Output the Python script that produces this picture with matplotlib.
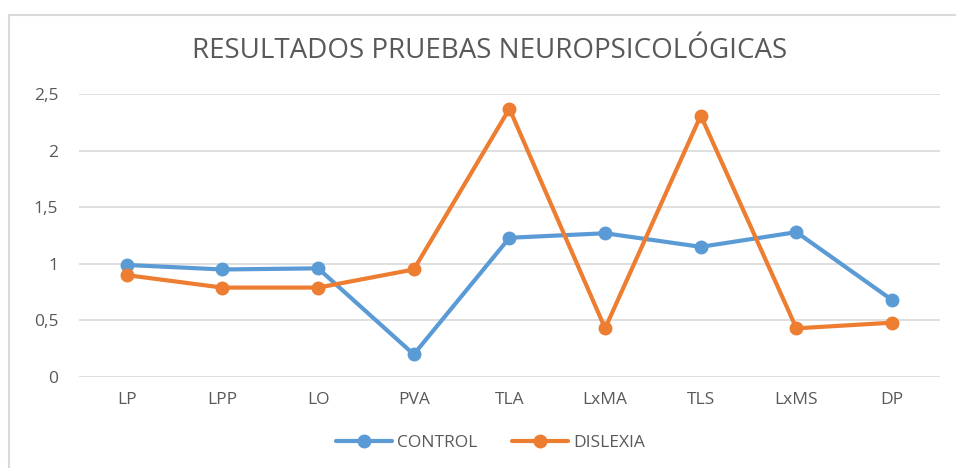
import matplotlib.pyplot as plt
from matplotlib.lines import Line2D

categories = ["LP", "LPP", "LO", "PVA", "TLA", "LxMA", "TLS", "LxMS", "DP"]
control = [0.99, 0.95, 0.96, 0.20, 1.23, 1.27, 1.15, 1.28, 0.68]
dislexia = [0.90, 0.79, 0.79, 0.95, 2.37, 0.43, 2.31, 0.43, 0.48]
y_ticks = [0, 0.5, 1, 1.5, 2, 2.5]
y_tick_labels = ["0", "0,5", "1", "1,5", "2", "2,5"]

plt.rcParams["font.family"] = ["Open Sans", "DejaVu Sans"]
text_color = "#595959"

fig = plt.figure(figsize=(9.56, 4.68), dpi=100)
ax = fig.add_axes([0.0826, 0.1944, 0.9006, 0.6047])

x = list(range(len(categories)))
ax.plot(x, control, color="#5B9BD5", linewidth=3, marker="o", markersize=9,
        label="CONTROL", solid_capstyle="round", zorder=3)
ax.plot(x, dislexia, color="#ED7D31", linewidth=3, marker="o", markersize=9,
        label="DISLEXIA", solid_capstyle="round", zorder=3)

ax.set_xlim(-0.5, len(categories) - 0.5)
ax.set_ylim(0, 2.5)
ax.set_xticks(x)
ax.set_xticklabels(categories)
ax.set_yticks(y_ticks)
ax.set_yticklabels(y_tick_labels)
ax.tick_params(axis="both", length=0, labelsize=12.5, colors=text_color)
ax.tick_params(axis="x", pad=11)
ax.tick_params(axis="y", pad=15)
ax.grid(axis="y", color="#D9D9D9", linewidth=1.2)
ax.set_axisbelow(True)
for spine in ax.spines.values():
    spine.set_visible(False)

fig.text(0.512, 0.891, "RESULTADOS PRUEBAS NEUROPSICOLÓGICAS", ha="center",
         va="center", fontsize=20, color=text_color)

leg = ax.legend(loc="center", bbox_to_anchor=(0.478, -0.233), ncol=2,
                frameon=False, fontsize=12.5, handlelength=3.2,
                columnspacing=2.0, handletextpad=0.3)
for t in leg.get_texts():
    t.set_color(text_color)

# chart frame (top and left edges)
fig.add_artist(Line2D([0.009, 1.0], [0.969, 0.969], color="#D9D9D9", linewidth=1.5))
fig.add_artist(Line2D([0.009, 0.009], [0.0, 0.969], color="#D9D9D9", linewidth=1.5))

fig.savefig("out.png", dpi=100, facecolor="white")
